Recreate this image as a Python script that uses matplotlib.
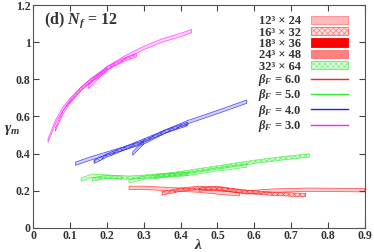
import numpy as np
import matplotlib
matplotlib.use('Agg')
from matplotlib import pyplot as plt
from matplotlib.patches import Patch
from matplotlib.lines import Line2D

plt.rcParams['font.family'] = ['Liberation Serif', 'DejaVu Serif']
plt.rcParams['mathtext.fontset'] = 'custom'
plt.rcParams['mathtext.rm'] = 'Liberation Serif:bold'
plt.rcParams['mathtext.it'] = 'Liberation Serif:italic:bold'
plt.rcParams['mathtext.bf'] = 'Liberation Serif:bold'
plt.rcParams['mathtext.fallback'] = 'stix'
plt.rcParams['hatch.linewidth'] = 0.4

# segments (one per lattice volume), lambda and gamma_m centre values
lam_b3 = [[0.04, 0.06, 0.08, 0.10, 0.13, 0.16, 0.20],
          [0.06, 0.08, 0.10, 0.13, 0.16, 0.20, 0.25, 0.28],
          [0.15, 0.20, 0.25, 0.30, 0.35, 0.40, 0.43]]
gam_b3 = [[0.47, 0.57, 0.64, 0.69, 0.75, 0.80, 0.85],
          [0.53, 0.62, 0.68, 0.75, 0.80, 0.86, 0.91, 0.93],
          [0.76, 0.86, 0.92, 0.97, 1.01, 1.04, 1.06]]

lam_b4 = [[0.115, 0.15, 0.20, 0.25, 0.30],
          [0.165, 0.20, 0.25, 0.30, 0.36, 0.42],
          [0.27, 0.30, 0.36, 0.42, 0.48, 0.53, 0.58]]
gam_b4 = [[0.345, 0.37, 0.40, 0.43, 0.46],
          [0.355, 0.39, 0.43, 0.47, 0.52, 0.56],
          [0.40, 0.46, 0.52, 0.57, 0.61, 0.645, 0.68]]

lam_b5 = [[0.13, 0.16, 0.20, 0.24],
          [0.16, 0.20, 0.26, 0.30, 0.36, 0.42],
          [0.26, 0.30, 0.36, 0.42, 0.50, 0.58],
          [0.33, 0.40, 0.50, 0.60, 0.68, 0.75]]
gam_b5 = [[0.26, 0.28, 0.275, 0.27],
          [0.26, 0.275, 0.27, 0.275, 0.285, 0.29],
          [0.25, 0.27, 0.28, 0.29, 0.315, 0.335],
          [0.275, 0.295, 0.325, 0.355, 0.375, 0.39]]

lam_b6 = [[0.26, 0.30, 0.35, 0.40, 0.45, 0.50, 0.56],
          [0.35, 0.40, 0.45, 0.50, 0.55, 0.60, 0.66, 0.74],
          [0.45, 0.50, 0.58, 0.65, 0.75, 0.90]]
gam_b6 = [[0.215, 0.215, 0.21, 0.205, 0.20, 0.19, 0.18],
          [0.185, 0.205, 0.215, 0.21, 0.20, 0.19, 0.182, 0.176],
          [0.205, 0.215, 0.19, 0.20, 0.205, 0.202]]

betas = ['6.0', '5.0', '4.0', '3.0']
colors = ['#ff2020', '#33ee33', '#2020ee', '#ff22ff']
volumes = ['12³ × 24', '16³ × 32', '18³ × 36', '24³ × 48', '32³ × 64']
halfwidth = 0.009

fig = plt.figure(figsize=(3.74, 2.52), dpi=100)
ax = fig.add_axes([0.089, 0.0965, 0.886, 0.8825])

hatches = [None, 'xxxxxx', None, 'xxxxxx']
for lams, gams, c in zip([lam_b6, lam_b5, lam_b4, lam_b3],
                         [gam_b6, gam_b5, gam_b4, gam_b3], colors):
    for i, (l, g) in enumerate(zip(lams, gams)):
        l = np.array(l)
        g = np.array(g)
        ax.fill_between(l, g - halfwidth, g + halfwidth, facecolor=c, alpha=0.22, lw=0)
        ax.fill_between(l, g - halfwidth, g + halfwidth, facecolor='none',
                        edgecolor=c, lw=0.5, alpha=0.8, hatch=hatches[i % 4])

ax.set_xlim(0, 0.9)
ax.set_ylim(0, 1.2)
ax.set_xticks(np.arange(0, 0.91, 0.1))
ax.set_xticklabels(['0', '0.1', '0.2', '0.3', '0.4', '0.5', '0.6', '0.7', '0.8', '0.9'])
ax.set_yticks([0, 0.2, 0.4, 0.6, 0.8, 1.0, 1.2])
ax.set_yticklabels(['0', '0.2', '0.4', '0.6', '0.8', '1', '1.2'])
ax.tick_params(direction='in', top=True, right=True, length=4, width=0.8,
               labelsize=8.5, colors='#444444', pad=2)
for lab in ax.get_xticklabels() + ax.get_yticklabels():
    lab.set_fontweight('bold')
    lab.set_color('#333333')
for s in ax.spines.values():
    s.set_color('#555555')
    s.set_linewidth(0.8)

ax.text(0.03, 1.1, r'(d) $N_f$ = 12', fontsize=11.5, fontweight='bold', color='#333333')
fig.text(0.012, 0.475, r'$\gamma_m$', fontsize=11, color='#333333')
fig.text(0.52, 0.01, r'$\lambda$', fontsize=11, color='#333333')

handles = [Patch(facecolor='#ffbbbb', edgecolor='#ff8888', lw=0.6),
           Patch(facecolor='#ffe0e0', edgecolor='#ff6666', hatch='xxxxxx', lw=0.6),
           Patch(facecolor='#ff0000', edgecolor='#ff0000', lw=0.6),
           Patch(facecolor='#ff8080', edgecolor='#ff7070', lw=0.6),
           Patch(facecolor='#ddffdd', edgecolor='#66ee66', hatch='xxxxxx', lw=0.6)]
labels = list(volumes)
for b, c in zip(betas, colors):
    handles.append(Line2D([], [], color=c, lw=1.0))
    labels.append(r'$\beta_F$ = ' + b)
leg = ax.legend(handles, labels, loc='upper right', frameon=False, markerfirst=False,
                prop={'size': 9, 'weight': 'bold'}, handlelength=2.9, handleheight=0.65,
                labelspacing=-0.05, borderaxespad=0.3, handletextpad=0.8,
                bbox_to_anchor=(0.975, 0.995))
for t in leg.get_texts():
    t.set_color('#333333')

fig.savefig('out.png', dpi=100)
